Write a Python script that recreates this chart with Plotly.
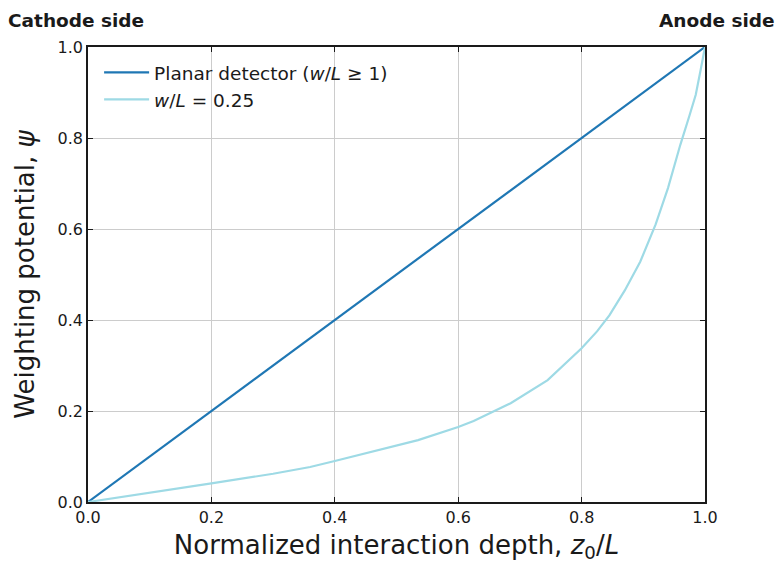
import plotly.graph_objects as go

# Normalized interaction depth z0/L
depth_planar = [0.0, 1.0]
psi_planar = [0.0, 1.0]

depth_pixel = [0.0, 0.1, 0.2, 0.3, 0.36, 0.4, 0.46, 0.535, 0.6, 0.625, 0.685, 0.745,
               0.8, 0.825, 0.845, 0.87, 0.895, 0.92, 0.94, 0.96, 0.975, 0.985, 0.993, 1.0]
psi_pixel = [0.0, 0.02, 0.041, 0.062, 0.077, 0.09, 0.11, 0.136, 0.165, 0.178, 0.217, 0.268,
             0.338, 0.375, 0.41, 0.465, 0.528, 0.61, 0.69, 0.785, 0.85, 0.895, 0.95, 1.0]

tick_vals = [0.0, 0.2, 0.4, 0.6, 0.8, 1.0]
tick_text = ["0.0", "0.2", "0.4", "0.6", "0.8", "1.0"]

FONT = "DejaVu Sans"

fig = go.Figure()
fig.add_trace(go.Scatter(
    x=depth_planar, y=psi_planar, mode="lines",
    line=dict(color="#1f77b4", width=2.2),
    name="Planar detector (<i>w</i>/<i>L</i> ≥ 1)",
))
fig.add_trace(go.Scatter(
    x=depth_pixel, y=psi_pixel, mode="lines",
    line=dict(color="#9edae5", width=2.2),
    name="<i>w</i>/<i>L</i> = 0.25",
))

axis_common = dict(
    range=[0, 1], tickvals=tick_vals, ticktext=tick_text,
    showgrid=True, gridcolor="#cccccc", gridwidth=1,
    showline=True, linecolor="#1a1a1a", linewidth=1.5, mirror="ticks",
    ticks="inside", ticklen=5, tickwidth=1.2, tickcolor="#1a1a1a",
    tickfont=dict(family=FONT, size=16, color="#1a1a1a"),
    zeroline=False, automargin=False,
)

fig.update_layout(
    width=778, height=563,
    margin=dict(l=88, r=73, t=47, b=61),
    paper_bgcolor="white", plot_bgcolor="white",
    font=dict(family=FONT, color="#1a1a1a"),
    xaxis=dict(**axis_common,
               title=dict(text="Normalized interaction depth, <i>z</i><sub>0</sub>/<i>L</i>",
                          font=dict(family=FONT, size=26), standoff=17)),
    yaxis=dict(**axis_common,
               title=dict(text="Weighting potential, <i>ψ</i>",
                          font=dict(family=FONT, size=26), standoff=15)),
    legend=dict(x=0.018, y=0.985, xanchor="left", yanchor="top",
                bgcolor="rgba(255,255,255,0)", borderwidth=0, itemwidth=45,
                font=dict(family=FONT, size=18.5, color="#1a1a1a")),
    showlegend=True,
)

fig.add_annotation(text="<b>Cathode side</b>", xref="paper", yref="paper",
                   x=0.0, y=1.0, xanchor="center", yanchor="bottom", yshift=14,
                   showarrow=False, font=dict(family=FONT, size=18.5, color="#1a1a1a"),
                   xshift=-12)
fig.add_annotation(text="<b>Anode side</b>", xref="paper", yref="paper",
                   x=1.0, y=1.0, xanchor="center", yanchor="bottom", yshift=14,
                   showarrow=False, font=dict(family=FONT, size=18.5, color="#1a1a1a"),
                   xshift=12)

fig.write_html("out.html")
